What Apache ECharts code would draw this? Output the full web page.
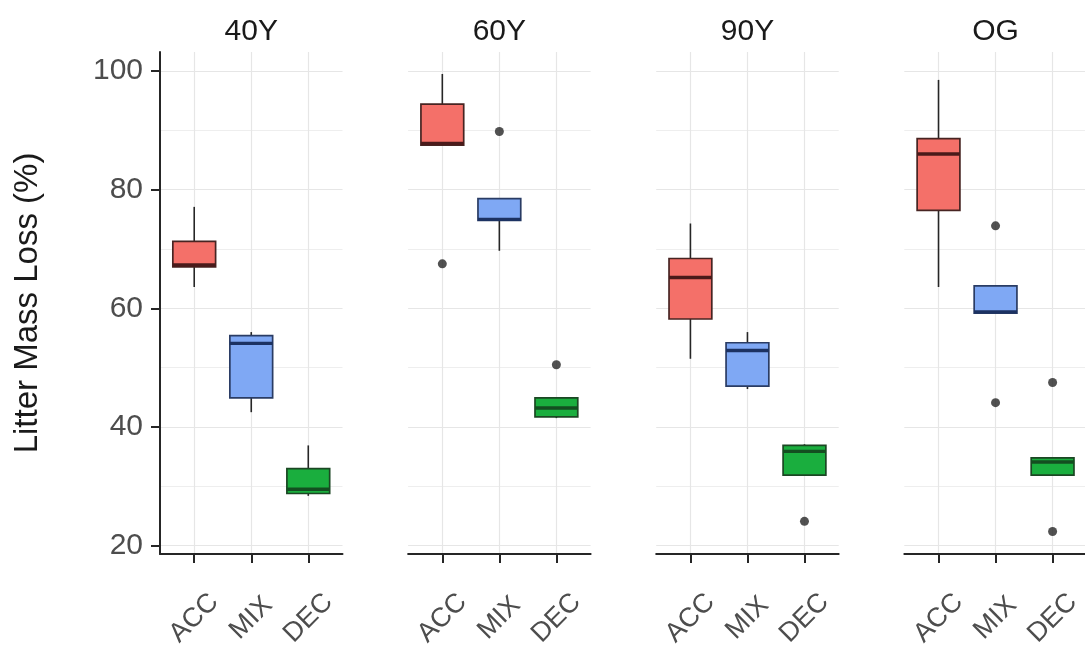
<!DOCTYPE html>
<html>
<head>
<meta charset="utf-8">
<title>Litter Mass Loss</title>
<script src="https://cdn.jsdelivr.net/npm/echarts@6/dist/echarts.min.js"></script>
<style>
  html, body { margin: 0; padding: 0; background: #ffffff; }
  #chart { width: 1085px; height: 649px; }
</style>
</head>
<body>
<div id="chart"></div>
<script>
// Stand ages (facets) and litter types (categories)
const panelNames = ['40Y', '60Y', '90Y', 'OG'];
const categories = ['ACC', 'MIX', 'DEC'];

// Box statistics per litter type: [min, Q1, median, Q3, max]
const box40Y = [[63.6, 67.0, 67.3, 71.3, 77.1], [42.5, 44.9, 54.1, 55.4, 56.0], [28.4, 28.8, 29.5, 33.0, 36.9]];
const box60Y = [[87.5, 87.5, 87.8, 94.4, 99.5], [69.7, 74.8, 75.0, 78.5, 78.5], [41.5, 41.7, 43.2, 44.9, 44.9]];
const box90Y = [[51.5, 58.2, 65.2, 68.4, 74.3], [46.4, 46.9, 52.9, 54.2, 56.0], [31.9, 31.9, 35.9, 36.9, 37.1]];
const boxOG  = [[63.6, 76.5, 86.0, 88.6, 98.5], [59.2, 59.2, 59.4, 63.8, 63.8], [31.9, 31.9, 34.1, 34.8, 34.8]];

// Outlying observations: [litter type, value]
const out40Y = [];
const out60Y = [['ACC', 67.5], ['MIX', 89.8], ['DEC', 50.5]];
const out90Y = [['DEC', 24.1]];
const outOG  = [['MIX', 73.9], ['MIX', 44.1], ['DEC', 47.5], ['DEC', 22.4]];

// Y axis
const yTicks = [20, 40, 60, 80, 100];
const yMinorTicks = [30, 50, 70, 90];
const yMin = 18.6, yMax = 103.2;
const yTitle = 'Litter Mass Loss (%)';

const boxes = [box40Y, box60Y, box90Y, boxOG];
const outliers = [out40Y, out60Y, out90Y, outOG];

// Styling
const fills = ['#F47069', '#7FA8F4', '#1AAE3E'];
const borders = ['#472422', '#2A3C64', '#1B4723'];
const medians = ['#4A1A1A', '#1C3262', '#134E20'];
const FONT = '"Liberation Sans", Arial, Helvetica, sans-serif';
const INK = '#262626';

const panelLeft0 = 160, panelStep = 248.1, panelWidth = 182.5;
const panelTop = 52, panelHeight = 502;

function renderBox(params, api) {
  const x = api.value(0);
  const ci = Math.round(x) - 1;
  const lo = api.coord([x, api.value(1)]);
  const q1 = api.coord([x, api.value(2)]);
  const md = api.coord([x, api.value(3)]);
  const q3 = api.coord([x, api.value(4)]);
  const hi = api.coord([x, api.value(5)]);
  const hw = api.size([0.75, 0], [x, 50])[0] / 2;
  const px = lo[0];
  const whisker = { stroke: INK, lineWidth: 1.6 };
  return {
    type: 'group',
    children: [
      { type: 'line', shape: { x1: px, y1: q3[1], x2: px, y2: hi[1] }, style: whisker },
      { type: 'line', shape: { x1: px, y1: q1[1], x2: px, y2: lo[1] }, style: whisker },
      { type: 'rect', shape: { x: px - hw, y: q3[1], width: 2 * hw, height: q1[1] - q3[1] },
        style: { fill: fills[ci], stroke: borders[ci], lineWidth: 1.7 } },
      { type: 'line', shape: { x1: px - hw, y1: md[1], x2: px + hw, y2: md[1] },
        style: { stroke: medians[ci], lineWidth: 3.4 } }
    ]
  };
}

const grids = [], xAxes = [], yAxes = [], series = [], graphics = [];

panelNames.forEach(function (name, p) {
  const left = panelLeft0 + p * panelStep;
  grids.push({ left: left, top: panelTop, width: panelWidth, height: panelHeight,
               outerBoundsMode: 'none', containLabel: false });

  xAxes.push({
    type: 'value', gridIndex: p, min: 0.4, max: 3.6,
    axisLine: { show: true, onZero: false, lineStyle: { color: INK, width: 2 } },
    axisTick: { show: true, length: 9, customValues: [1, 2, 3], lineStyle: { color: INK, width: 2 } },
    axisLabel: {
      show: true, customValues: [1, 2, 3], rotate: 45, margin: 64,
      align: 'center', verticalAlign: 'middle',
      fontFamily: FONT, fontSize: 27, color: '#4D4D4D',
      formatter: function (v) { return categories[Math.round(v) - 1]; }
    },
    splitLine: { show: true, lineStyle: { color: '#E6E6E6', width: 1.2 } }
  });

  const first = p === 0;
  // major grid / labelled axis
  yAxes.push({
    type: 'value', gridIndex: p, min: yMin, max: yMax, position: 'left',
    axisLine: { show: first, onZero: false, lineStyle: { color: INK, width: 2 } },
    axisTick: { show: first, length: 9, customValues: yTicks, lineStyle: { color: INK, width: 2 } },
    axisLabel: { show: first, customValues: yTicks, margin: 17, fontFamily: FONT, fontSize: 30, color: '#4D4D4D' },
    splitLine: { show: true, lineStyle: { color: '#E6E6E6', width: 1.2 } }
  });
  // minor grid lines
  yAxes.push({
    type: 'value', gridIndex: p, min: yMin, max: yMax, position: 'left',
    axisLine: { show: false },
    axisTick: { show: false, customValues: yMinorTicks },
    axisLabel: { show: false, customValues: yMinorTicks },
    splitLine: { show: true, lineStyle: { color: '#EEEEEE', width: 1 } }
  });

  series.push({
    type: 'custom', xAxisIndex: p, yAxisIndex: 2 * p,
    renderItem: renderBox,
    encode: { x: 0, y: [1, 2, 3, 4, 5] },
    data: boxes[p].map(function (b, i) { return [i + 1].concat(b); }),
    z: 3
  });

  series.push({
    type: 'scatter', xAxisIndex: p, yAxisIndex: 2 * p,
    symbol: 'circle', symbolSize: 9,
    itemStyle: { color: INK },
    data: outliers[p].map(function (o) { return [categories.indexOf(o[0]) + 1, o[1]]; }),
    z: 4
  });

  graphics.push({
    type: 'text', x: left + panelWidth / 2, y: 32,
    style: { text: name, font: '30px ' + FONT, fill: '#1A1A1A',
             align: 'center', verticalAlign: 'middle', textAlign: 'center', textVerticalAlign: 'middle' }
  });
});

graphics.push({
  type: 'text', x: 28, y: 303, rotation: Math.PI / 2,
  style: { text: yTitle, font: '33px ' + FONT, fill: '#1A1A1A',
           align: 'center', verticalAlign: 'middle', textAlign: 'center', textVerticalAlign: 'middle' }
});

const chart = echarts.init(document.getElementById('chart'), null, { renderer: 'canvas' });
chart.setOption({
  backgroundColor: '#ffffff',
  animation: false,
  grid: grids,
  xAxis: xAxes,
  yAxis: yAxes,
  series: series,
  graphic: graphics
});
</script>
</body>
</html>
